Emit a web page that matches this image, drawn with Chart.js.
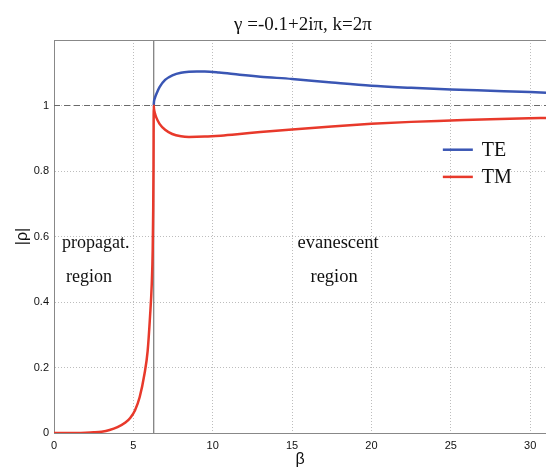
<!DOCTYPE html>
<html>
<head>
<meta charset="utf-8">
<script src="https://cdn.jsdelivr.net/npm/chart.js@4/dist/chart.umd.min.js"></script>
<style>
  html, body { margin: 0; padding: 0; background: #fff; }
  #wrap { width: 546px; height: 469px; }
</style>
</head>
<body>
<div id="wrap"><canvas id="rhoChart" width="546" height="469"></canvas></div>
<script>
// Labels
const chartTitle = 'γ =-0.1+2iπ, k=2π';
const xLabel = 'β';
const yLabel = '|ρ|';
const seriesNames = ['TE', 'TM'];
const regionNotes = ['propagat.', 'region', 'evanescent', 'region'];

// TE curve (only exists past the cutoff)
const betaTE = [6.283, 6.3, 6.35, 6.45, 6.65, 7.0, 7.5, 8.0, 8.5, 9.0, 9.5, 10.4, 11.7, 13, 15, 17.5, 20, 22.5, 25, 27.5, 30, 31];
const rhoTE  = [1.0, 1.012, 1.022, 1.035, 1.056, 1.078, 1.093, 1.1, 1.103, 1.104, 1.104, 1.101, 1.094, 1.088, 1.081, 1.07, 1.06, 1.054, 1.049, 1.045, 1.041, 1.039];

// TM curve
const betaTM = [0, 1, 2, 2.5, 3, 3.5, 4, 4.5, 4.8, 5.1, 5.4, 5.7, 5.9, 6.05, 6.16, 6.22, 6.25, 6.27, 6.283,
                6.3, 6.35, 6.45, 6.65, 7.0, 7.45, 8.0, 8.5, 9.5, 10.5, 11.7, 13, 15, 17.5, 20, 22.5, 25, 27.5, 30, 31];
const rhoTM  = [0, 0, 0.001, 0.002, 0.004, 0.009, 0.018, 0.032, 0.046, 0.069, 0.11, 0.18, 0.25, 0.355, 0.455, 0.56, 0.68, 0.82, 1.0,
                0.99, 0.978, 0.963, 0.944, 0.926, 0.913, 0.906, 0.904, 0.905, 0.908, 0.913, 0.919, 0.927, 0.936, 0.944, 0.95, 0.954, 0.958, 0.961, 0.962];

// Reference lines
const cutoffBeta = 6.283;   // k = 2π
const unitRho = 1;

const xMin = 0, xMax = 31;
const yMin = 0, yMax = 1.2;

const toPoints = (xs, ys) => xs.map((x, i) => ({ x: x, y: ys[i] }));

const serif = "'Liberation Serif', 'Times New Roman', serif";
const sans = "'Liberation Sans', Arial, sans-serif";

// draws the title, the region notes, the legend and the top box edge
const decorations = {
  id: 'decorations',
  afterDatasetsDraw(chart) {
    const ctx = chart.ctx;
    const area = chart.chartArea;
    const xs = chart.scales.x, ys = chart.scales.y;
    ctx.save();

    // top edge of the box
    ctx.strokeStyle = '#888';
    ctx.lineWidth = 1;
    ctx.beginPath();
    ctx.moveTo(area.left, area.top + 0.5);
    ctx.lineTo(area.right, area.top + 0.5);
    ctx.stroke();

    // title
    ctx.fillStyle = '#111';
    ctx.font = '19px ' + serif;
    ctx.textAlign = 'center';
    ctx.textBaseline = 'middle';
    ctx.fillText(chartTitle, (area.left + area.right) / 2 + 3, 25);

    // region notes
    ctx.font = '18px ' + serif;
    ctx.textAlign = 'left';
    ctx.fillText(regionNotes[0], xs.getPixelForValue(0.5), ys.getPixelForValue(0.58));
    ctx.fillText(regionNotes[1], xs.getPixelForValue(0.75), ys.getPixelForValue(0.477));
    ctx.textAlign = 'center';
    ctx.font = '18.5px ' + serif;
    ctx.fillText(regionNotes[2], xs.getPixelForValue(17.9), ys.getPixelForValue(0.58));
    ctx.fillText(regionNotes[3], xs.getPixelForValue(17.65), ys.getPixelForValue(0.477));

    // legend
    const legendX = xs.getPixelForValue(24.5);
    [0, 1].forEach((i) => {
      const ds = chart.data.datasets[i];
      const y = ys.getPixelForValue(0.865 - i * 0.083);
      ctx.strokeStyle = ds.borderColor;
      ctx.lineWidth = 2.5;
      ctx.beginPath();
      ctx.moveTo(legendX, y);
      ctx.lineTo(legendX + 30, y);
      ctx.stroke();
      ctx.fillStyle = '#111';
      ctx.font = '20px ' + serif;
      ctx.textAlign = 'left';
      ctx.fillText(ds.label, legendX + 39, y + 1);
    });
    ctx.restore();
  }
};

const ctx = document.getElementById('rhoChart').getContext('2d');
new Chart(ctx, {
  type: 'line',
  data: {
    datasets: [
      {
        label: seriesNames[0],
        data: toPoints(betaTE, rhoTE),
        borderColor: '#3a56b4',
        borderWidth: 2.5,
        pointRadius: 0,
        cubicInterpolationMode: 'monotone',
        order: 1
      },
      {
        label: seriesNames[1],
        data: toPoints(betaTM, rhoTM),
        borderColor: '#e8392b',
        borderWidth: 2.5,
        pointRadius: 0,
        cubicInterpolationMode: 'monotone',
        order: 0
      },
      {
        label: 'unit',
        data: [{ x: xMin, y: unitRho }, { x: xMax, y: unitRho }],
        borderColor: '#6a6a6a',
        borderWidth: 1.2,
        borderDash: [6, 4],
        pointRadius: 0,
        order: 2
      },
      {
        label: 'cutoff',
        data: [{ x: cutoffBeta, y: yMin }, { x: cutoffBeta, y: yMax }],
        borderColor: '#777',
        borderWidth: 1.2,
        pointRadius: 0,
        order: 2
      }
    ]
  },
  options: {
    responsive: false,
    animation: false,
    devicePixelRatio: 1,
    layout: { padding: { top: 40, right: 0, left: 0, bottom: 0 } },
    plugins: {
      legend: { display: false },
      title: { display: false },
      tooltip: { enabled: false }
    },
    scales: {
      x: {
        type: 'linear',
        min: xMin,
        max: xMax,
        ticks: {
          stepSize: 5,
          includeBounds: false,
          padding: 6,
          color: '#111',
          font: { family: sans, size: 11 },
          maxRotation: 0
        },
        grid: { color: '#bdbdbd', lineWidth: 1, drawTicks: false },
        border: { color: '#888', width: 1, dash: [1, 2] },
        title: {
          display: true,
          text: xLabel,
          color: '#111',
          font: { family: sans, size: 16 },
          padding: { top: 0, bottom: 0 }
        },
        afterFit(scale) { scale.height = 36; }
      },
      y: {
        type: 'linear',
        min: yMin,
        max: yMax,
        ticks: {
          stepSize: 0.2,
          includeBounds: false,
          padding: 5,
          color: '#111',
          font: { family: sans, size: 11 },
          callback: (v) => (v > 1.01 ? '' : String(Math.round(v * 10) / 10))
        },
        grid: { color: '#bdbdbd', lineWidth: 1, drawTicks: false },
        border: { color: '#888', width: 1, dash: [1, 2] },
        title: {
          display: true,
          text: yLabel,
          color: '#111',
          font: { family: sans, size: 16 },
          padding: { top: 13, bottom: 0 }
        },
        afterFit(scale) { scale.width = 54; }
      }
    }
  },
  plugins: [decorations]
});
</script>
</body>
</html>
